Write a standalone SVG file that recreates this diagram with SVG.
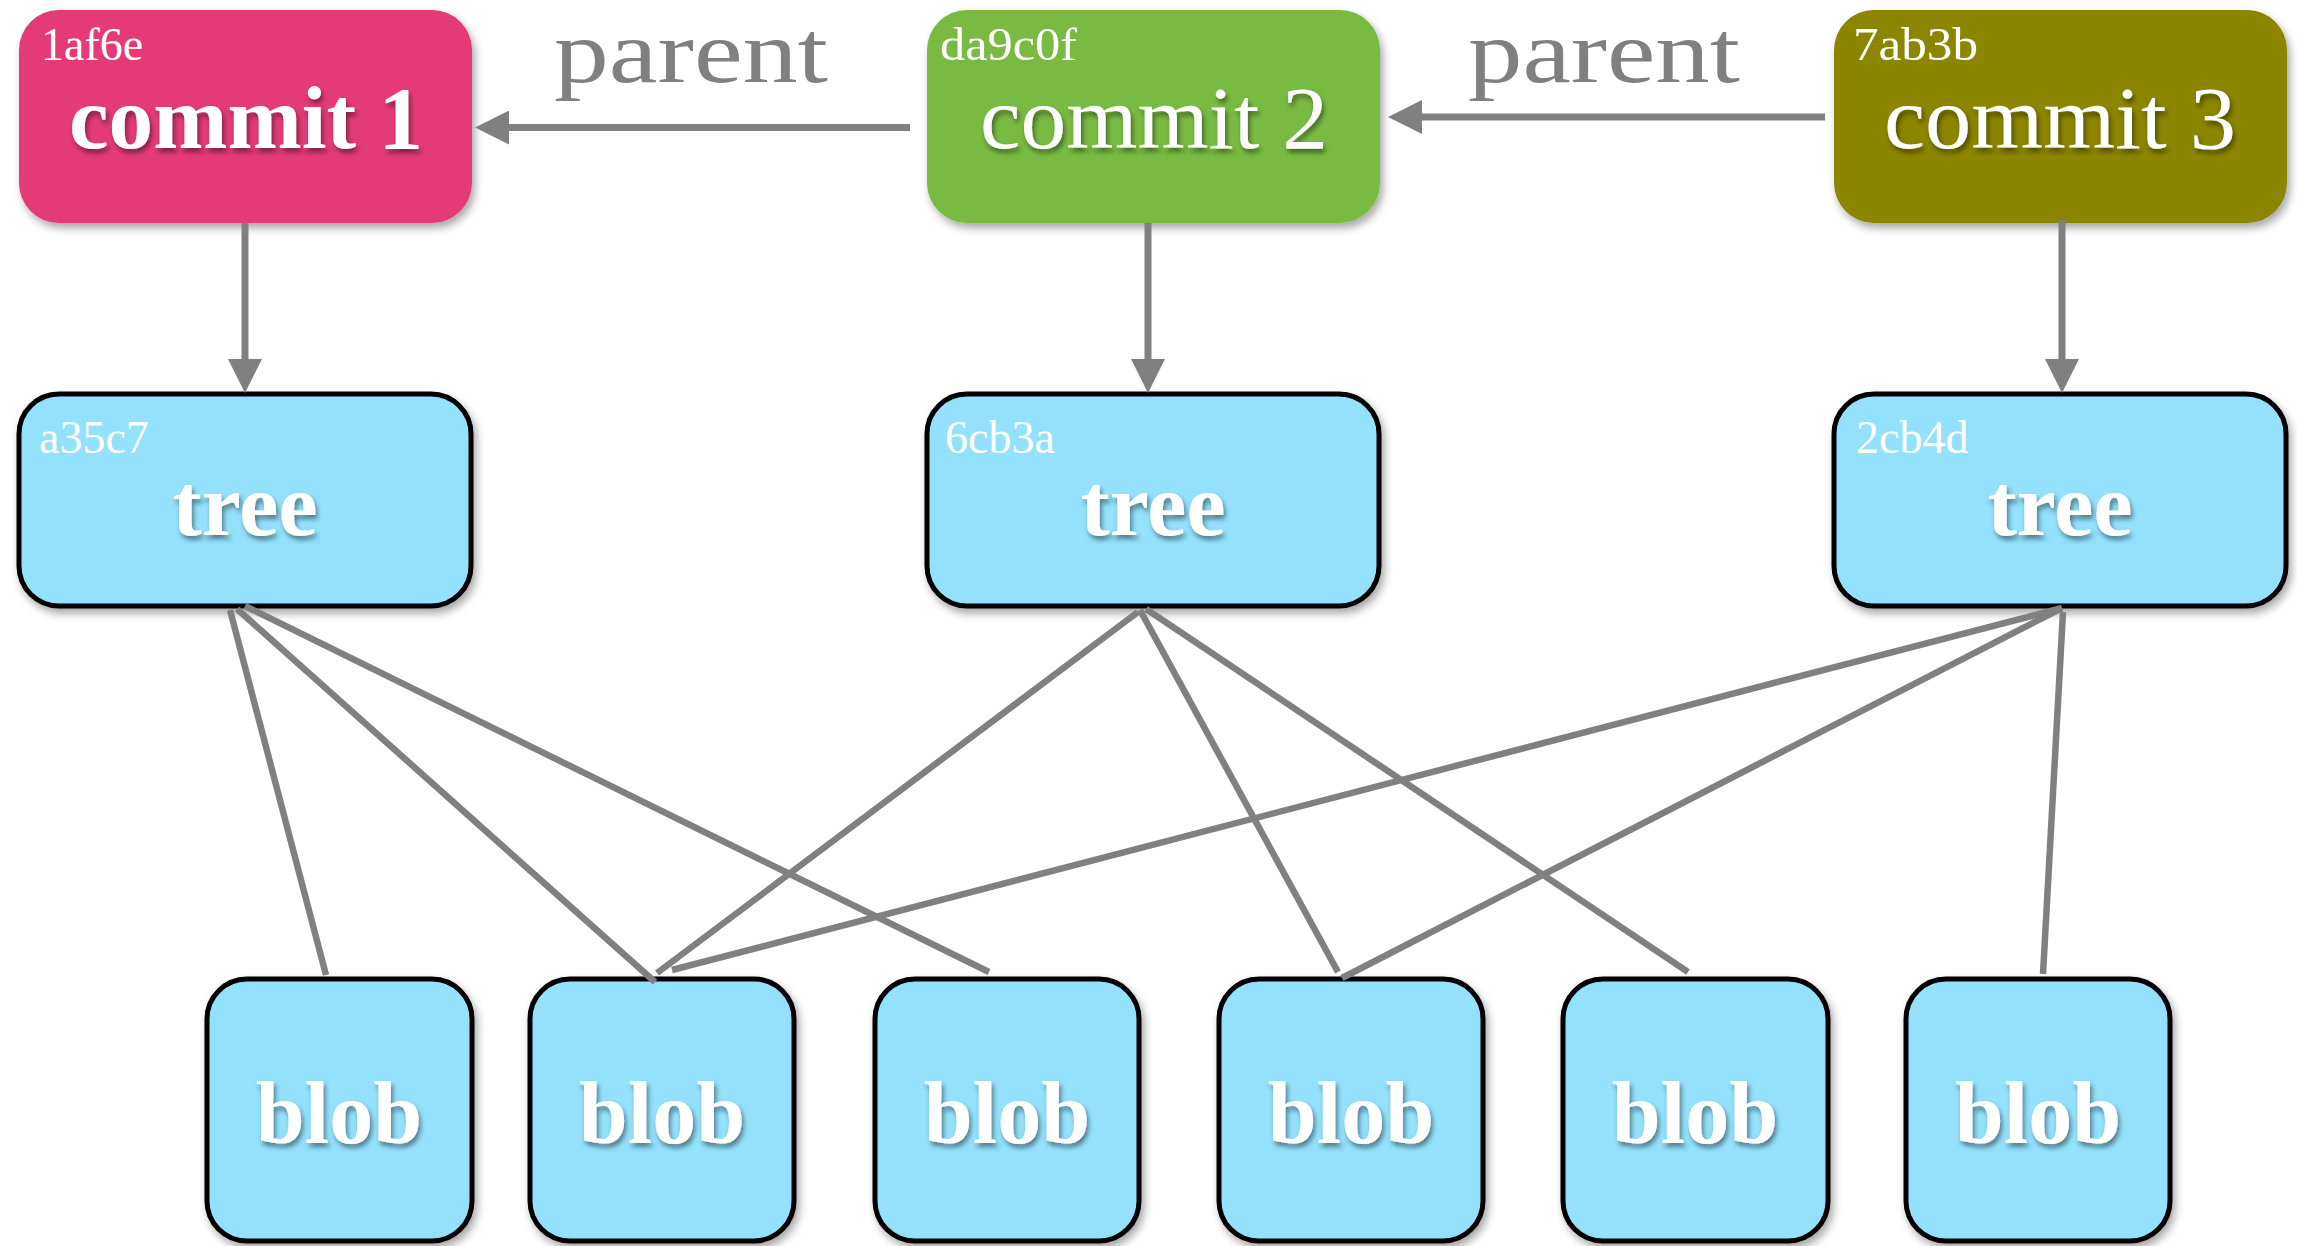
<svg xmlns="http://www.w3.org/2000/svg" width="2297" height="1246" viewBox="0 0 2297 1246">
<defs>
<filter id="boxShadow" x="-10%" y="-10%" width="125%" height="130%">
<feDropShadow dx="3" dy="5" stdDeviation="4" flood-color="#000" flood-opacity="0.35"/>
</filter>
<filter id="txtShadow" x="-10%" y="-20%" width="125%" height="150%">
<feDropShadow dx="2" dy="4" stdDeviation="2.5" flood-color="#000" flood-opacity="0.45"/>
</filter>
<marker id="arrow" markerUnits="userSpaceOnUse" markerWidth="34" markerHeight="34" viewBox="0 0 34 34" refX="0" refY="17" orient="auto">
<path d="M0,0 L34,17 L0,34 z" fill="#808080"/>
</marker>
</defs>
<style>
.commit { filter: url(#boxShadow); }
.obj { fill: #93E1FC; stroke: #000; stroke-width: 5; filter: url(#boxShadow); }
.title { font-family: "Liberation Serif", "DejaVu Serif", serif; fill: #fff; text-anchor: middle; font-size: 88px; filter: url(#txtShadow); }
.bold { font-weight: bold; }
.hash { font-family: "Liberation Serif", "DejaVu Serif", serif; fill: #fff; font-size: 46px; }
.lbl { font-family: "Liberation Serif", "DejaVu Serif", serif; fill: #808080; font-size: 88px; }
.edge { stroke: #808080; stroke-width: 6.5; fill: none; }
.arr { stroke: #808080; stroke-width: 7; fill: none; marker-end: url(#arrow); }
</style>
<rect width="2297" height="1246" fill="#fff"/>

<g id="commit1">
<rect class="commit" x="19" y="10" width="453" height="213" rx="40" fill="#E43A78"/>
<text class="hash" x="41" y="60">1af6e</text>
<text class="title bold" x="246" y="148" textLength="354" lengthAdjust="spacingAndGlyphs">commit 1</text>
</g>
<g id="commit2">
<rect class="commit" x="927" y="10" width="453" height="213" rx="40" fill="#79BB43"/>
<text class="hash" x="940" y="60" textLength="137" lengthAdjust="spacingAndGlyphs">da9c0f</text>
<text class="title" x="1154" y="148" textLength="348" lengthAdjust="spacingAndGlyphs">commit 2</text>
</g>
<g id="commit3">
<rect class="commit" x="1834" y="10" width="453" height="213" rx="40" fill="#8C8500"/>
<text class="hash" x="1853" y="60" textLength="125" lengthAdjust="spacingAndGlyphs">7ab3b</text>
<text class="title" x="2060" y="148" textLength="352" lengthAdjust="spacingAndGlyphs">commit 3</text>
</g>

<g id="tree1">
<rect class="obj" x="19" y="394" width="452" height="212" rx="40"/>
<text class="hash" x="39" y="453">a35c7</text>
<text class="title bold" x="245" y="535">tree</text>
</g>
<g id="tree2">
<rect class="obj" x="927" y="394" width="452" height="212" rx="40"/>
<text class="hash" x="945" y="453">6cb3a</text>
<text class="title bold" x="1153" y="535">tree</text>
</g>
<g id="tree3">
<rect class="obj" x="1834" y="394" width="452" height="212" rx="40"/>
<text class="hash" x="1856" y="453">2cb4d</text>
<text class="title bold" x="2060" y="535">tree</text>
</g>

<g id="blob1"><rect class="obj" x="207" y="979" width="265" height="262" rx="40"/><text class="title bold" x="339" y="1143" font-size="88">blob</text></g>
<g id="blob2"><rect class="obj" x="530" y="979" width="264" height="262" rx="40"/><text class="title bold" x="662" y="1143" font-size="88">blob</text></g>
<g id="blob3"><rect class="obj" x="875" y="979" width="264" height="262" rx="40"/><text class="title bold" x="1007" y="1143" font-size="88">blob</text></g>
<g id="blob4"><rect class="obj" x="1219" y="979" width="264" height="262" rx="40"/><text class="title bold" x="1351" y="1143" font-size="88">blob</text></g>
<g id="blob5"><rect class="obj" x="1563" y="979" width="265" height="262" rx="40"/><text class="title bold" x="1695" y="1143" font-size="88">blob</text></g>
<g id="blob6"><rect class="obj" x="1906" y="979" width="264" height="262" rx="40"/><text class="title bold" x="2038" y="1143" font-size="88">blob</text></g>

<g id="connectors">
<line class="arr" x1="910" y1="127.5" x2="509" y2="127.5"/>
<text class="lbl" x="554" y="82" textLength="274" lengthAdjust="spacingAndGlyphs">parent</text>
<line class="arr" x1="1825" y1="117" x2="1422" y2="117"/>
<text class="lbl" x="1468" y="82" textLength="272" lengthAdjust="spacingAndGlyphs">parent</text>
<line class="arr" x1="245" y1="223" x2="245" y2="359"/>
<line class="arr" x1="1148" y1="223" x2="1148" y2="359"/>
<line class="arr" x1="2062" y1="220" x2="2062" y2="359"/>
<line class="edge" x1="230" y1="610" x2="326" y2="975"/>
<line class="edge" x1="237" y1="609" x2="655" y2="982"/>
<line class="edge" x1="245" y1="606" x2="989" y2="972"/>
<line class="edge" x1="1138" y1="612" x2="657" y2="973"/>
<line class="edge" x1="1140" y1="610" x2="1338" y2="972"/>
<line class="edge" x1="1146" y1="609" x2="1688" y2="972"/>
<line class="edge" x1="2062" y1="608" x2="672" y2="970"/>
<line class="edge" x1="2062" y1="608" x2="1342" y2="978"/>
<line class="edge" x1="2063" y1="612" x2="2043" y2="974"/>
</g>
</svg>
